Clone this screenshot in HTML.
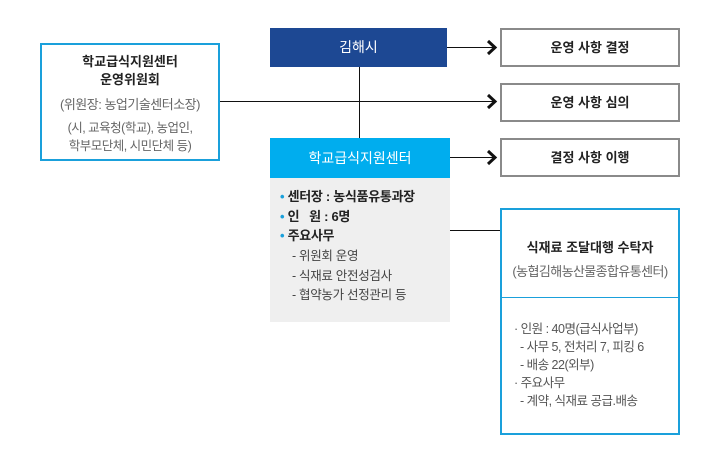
<!DOCTYPE html>
<html><head><meta charset="utf-8"><style>
body{margin:0;width:720px;height:471px;background:#fff;position:relative;overflow:hidden;font-family:"Liberation Sans","Noto Sans CJK KR",sans-serif;}
div{position:absolute;box-sizing:border-box}
.gb{left:500px;width:180px;height:39px;border:2px solid #8a8a8a;background:#fff;font-size:13px;color:#222;text-align:center;line-height:35px;font-weight:bold}
.ln{background:#111}
.t{white-space:nowrap}
</style></head><body>
<div class="ln" style="left:359px;top:66px;width:1px;height:73px"></div>
<div class="ln" style="left:219px;top:101px;width:275px;height:1px"></div>
<div class="ln" style="left:447px;top:47px;width:47px;height:1px"></div>
<div class="ln" style="left:450px;top:157px;width:44px;height:1px"></div>
<div class="ln" style="left:450px;top:230px;width:51px;height:1px"></div>
<svg style="position:absolute;left:0;top:0" width="720" height="471">
<g fill="none" stroke="#111" stroke-width="3">
<polyline points="488,41 495,47.5 488,54"/>
<polyline points="488,95 495,101.5 488,108"/>
<polyline points="488,151 495,157.5 488,164"/>
</g></svg>
<div style="left:40px;top:43px;width:180px;height:118px;border:2px solid #1aa0db;text-align:center">
<div class="t" style="left:0;right:0;top:8px;font-size:13px;font-weight:bold;color:#222;line-height:18px">학교급식지원센터<br>운영위원회</div>
<div class="t" style="left:0;right:0;top:49px;font-size:13px;color:#666;letter-spacing:-0.5px">(위원장: 농업기술센터소장)</div>
<div class="t" style="left:0;right:0;top:74px;font-size:12.5px;color:#666;line-height:18px;letter-spacing:-0.5px">(시, 교육청(학교), 농업인,<br>학부모단체, 시민단체 등)</div>
</div>
<div style="left:270px;top:28px;width:177px;height:39px;background:#1d4893;color:#fff;font-size:14px;text-align:center;line-height:39px">김해시</div>
<div class="gb" style="top:28px">운영 사항 결정</div>
<div class="gb" style="top:83px">운영 사항 심의</div>
<div class="gb" style="top:138px">결정 사항 이행</div>
<div style="left:270px;top:138px;width:180px;height:40px;background:#00adee;color:#fff;font-size:14px;text-align:center;line-height:40px">학교급식지원센터</div>
<div style="left:270px;top:178px;width:180px;height:144px;background:#efefef;font-size:13px;color:#222">
<div class="t" style="left:10px;top:9px;font-weight:bold;line-height:19.5px;letter-spacing:-0.3px"><span style="color:#1aa0db">•</span> 센터장 : 농식품유통과장<br><span style="color:#1aa0db">•</span> 인 &nbsp;&nbsp;원 : 6명<br><span style="color:#1aa0db">•</span> 주요사무</div>
<div class="t" style="left:22px;top:69px;color:#444;line-height:19.5px;font-size:12.5px;letter-spacing:-0.3px">- 위원회 운영<br>- 식재료 안전성검사<br>- 협약농가 선정관리 등</div>
</div>
<div style="left:500px;top:208px;width:180px;height:227px;border:2px solid #1aa0db">
<div style="left:0;right:0;top:87px;height:1px;background:#1aa0db"></div>
<div class="t" style="left:0;right:0;top:27px;text-align:center;font-size:13px;font-weight:bold;color:#222">식재료 조달대행 수탁자</div>
<div class="t" style="left:0;right:0;top:51px;text-align:center;font-size:13px;color:#666;letter-spacing:-0.6px">(농협김해농산물종합유통센터)</div>
<div class="t" style="left:12px;top:110px;font-size:12.5px;color:#555;line-height:18px;letter-spacing:-0.5px">· 인원 : 40명(급식사업부)<br>&nbsp;&nbsp;- 사무 5, 전처리 7, 피킹 6<br>&nbsp;&nbsp;- 배송 22(외부)<br>· 주요사무<br>&nbsp;&nbsp;- 계약, 식재료 공급.배송</div>
</div>
</body></html>
